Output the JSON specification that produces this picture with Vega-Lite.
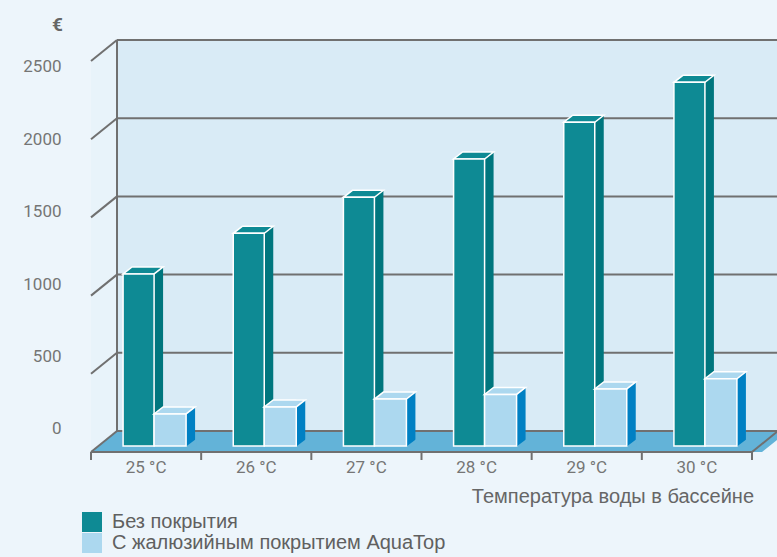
{
  "$schema": "https://vega.github.io/schema/vega-lite/v6.json",
  "width": 671,
  "height": 391,
  "autosize": {"type": "none"},
  "padding": {"left": 86, "top": 61, "right": 20, "bottom": 105},
  "background": "#edf5fb",
  "config": {"view": {"stroke": null}, "font": "Roboto"},
  "datasets": {
    "costs": [
      {"t": 25, "temp": "25 °C", "series": "Без покрытия", "euro": 1100},
      {"t": 26, "temp": "26 °C", "series": "Без покрытия", "euro": 1360},
      {"t": 27, "temp": "27 °C", "series": "Без покрытия", "euro": 1590},
      {"t": 28, "temp": "28 °C", "series": "Без покрытия", "euro": 1835},
      {"t": 29, "temp": "29 °C", "series": "Без покрытия", "euro": 2070},
      {"t": 30, "temp": "30 °C", "series": "Без покрытия", "euro": 2325},
      {"t": 25, "temp": "25 °C", "series": "С жалюзийным покрытием AquaTop", "euro": 205},
      {"t": 26, "temp": "26 °C", "series": "С жалюзийным покрытием AquaTop", "euro": 250},
      {"t": 27, "temp": "27 °C", "series": "С жалюзийным покрытием AquaTop", "euro": 300},
      {"t": 28, "temp": "28 °C", "series": "С жалюзийным покрытием AquaTop", "euro": 330},
      {"t": 29, "temp": "29 °C", "series": "С жалюзийным покрытием AquaTop", "euro": 365},
      {"t": 30, "temp": "30 °C", "series": "С жалюзийным покрытием AquaTop", "euro": 430}
    ],
    "ticks": [{"v": 0}, {"v": 500}, {"v": 1000}, {"v": 1500}, {"v": 2000}, {"v": 2500}],
    "bounds": [{"b": 24.5}, {"b": 25.5}, {"b": 26.5}, {"b": 27.5}, {"b": 28.5}, {"b": 29.5}, {"b": 30.5}]
  },
  "layer": [
    {
      "layer": [
        {
          "data": {"values": [{}]},
          "mark": {"type": "rect", "fill": "#d9ebf6", "xOffset": 26, "x2Offset": 26, "yOffset": -21, "y2Offset": -21},
          "encoding": {
            "x": {"datum": 24.5, "type": "quantitative", "scale": {"domain": [24.5, 30.5], "nice": false, "zero": false}, "axis": null},
            "x2": {"datum": 30.5},
            "y": {
              "datum": 0, "type": "quantitative",
              "scale": {"domain": [0, 2500], "nice": false},
              "axis": {
                "values": [0, 500, 1000, 1500, 2000, 2500],
                "labels": false, "ticks": true, "tickSize": 7, "tickWidth": 2, "tickColor": "#707070",
                "domainColor": "#707070", "domainWidth": 2, "grid": false, "title": null, "zindex": 1
              }
            },
            "y2": {"datum": 2500}
          }
        },
        {
          "data": {"values": [{}]},
          "mark": {"type": "point", "shape": "M 0 0 L 0 -391 L 26 -412 L 26 -21 Z", "size": 4, "filled": true, "fill": "#e8f3fa", "opacity": 1, "strokeWidth": 0},
          "encoding": {
            "x": {"datum": 24.5, "type": "quantitative", "axis": null},
            "y": {"datum": 0, "type": "quantitative", "axis": null}
          }
        },
        {
          "data": {"values": [{}]},
          "mark": {"type": "point", "shape": "M 0 0 L 671 0 L 697 -21 L 26 -21 Z", "size": 4, "filled": true, "fill": "#63b3d8", "opacity": 1, "strokeWidth": 0},
          "encoding": {
            "x": {"datum": 24.5, "type": "quantitative", "axis": null},
            "y": {"datum": 0, "type": "quantitative", "axis": null}
          }
        },
        {
          "data": {"name": "ticks"},
          "mark": {"type": "rule", "color": "#707070", "strokeWidth": 2, "xOffset": 26, "x2Offset": 26, "yOffset": -21},
          "encoding": {
            "x": {"datum": 24.5, "type": "quantitative", "axis": null},
            "x2": {"datum": 30.5},
            "y": {"field": "v", "type": "quantitative", "axis": null}
          }
        },
        {
          "data": {"values": [{}]},
          "mark": {"type": "rule", "color": "#707070", "strokeWidth": 2, "xOffset": 26, "yOffset": -21, "y2Offset": -21},
          "encoding": {
            "x": {"datum": 24.5, "type": "quantitative", "axis": null},
            "y": {"datum": 0, "type": "quantitative", "axis": null},
            "y2": {"datum": 2500}
          }
        },
        {
          "data": {"name": "ticks"},
          "mark": {"type": "rule", "color": "#707070", "strokeWidth": 2, "x2Offset": 26, "y2Offset": -21},
          "encoding": {
            "x": {"datum": 24.5, "type": "quantitative", "axis": null},
            "x2": {"datum": 24.5},
            "y": {"field": "v", "type": "quantitative", "axis": null},
            "y2": {"field": "v"}
          }
        },
        {
          "data": {"values": [{}]},
          "mark": {"type": "rule", "color": "#707070", "strokeWidth": 2, "x2Offset": 26, "y2Offset": -21},
          "encoding": {
            "x": {"datum": 30.5, "type": "quantitative", "axis": null},
            "x2": {"datum": 30.5},
            "y": {"datum": 0, "type": "quantitative", "axis": null},
            "y2": {"datum": 0}
          }
        },
        {
          "data": {"values": [{}]},
          "mark": {"type": "rule", "color": "#707070", "strokeWidth": 2},
          "encoding": {
            "x": {"datum": 24.5, "type": "quantitative", "axis": null},
            "x2": {"datum": 30.5},
            "y": {"datum": 0, "type": "quantitative", "axis": null}
          }
        },
        {
          "data": {"name": "bounds"},
          "mark": {"type": "rule", "color": "#707070", "strokeWidth": 2, "y2Offset": 8},
          "encoding": {
            "x": {"field": "b", "type": "quantitative", "axis": null},
            "y": {"datum": 0, "type": "quantitative", "axis": null},
            "y2": {"datum": 0}
          }
        },
        {
          "data": {"name": "costs"},
          "transform": [{"filter": "datum.series === 'Без покрытия'"}],
          "mark": {"type": "text", "font": "Roboto", "fontSize": 17, "color": "#757575", "baseline": "middle", "align": "center", "yOffset": 16},
          "encoding": {
            "x": {"field": "t", "type": "quantitative", "axis": null},
            "y": {"datum": 0, "type": "quantitative", "axis": null},
            "text": {"field": "temp"}
          }
        },
        {
          "data": {"values": [{}]},
          "mark": {"type": "text", "font": "Liberation Sans", "fontSize": 20, "color": "#666666", "baseline": "middle", "align": "right", "xOffset": 2, "yOffset": 45},
          "encoding": {
            "x": {"datum": 30.5, "type": "quantitative", "axis": null},
            "y": {"datum": 0, "type": "quantitative", "axis": null},
            "text": {"value": "Температура воды в бассейне"}
          }
        },
        {
          "data": {"name": "costs"},
          "transform": [{"filter": "datum.series === 'Без покрытия'"}],
          "mark": {"type": "bar", "width": 9, "xOffset": 12.5, "yOffset": -13, "y2Offset": -6, "fill": "#00767e"},
          "encoding": {
            "x": {"field": "t", "type": "quantitative", "axis": null},
            "y": {"field": "euro", "type": "quantitative", "axis": null},
            "y2": {"datum": 0}
          }
        },
        {
          "data": {"name": "costs"},
          "transform": [{"filter": "datum.series === 'Без покрытия'"}],
          "mark": {"type": "point", "shape": "M -15.5 0 L 15.5 0 L 24.5 -7 L -6.5 -7 Z", "size": 4, "filled": true, "fill": "#0e8a94", "stroke": "white", "strokeWidth": 1.5, "opacity": 1, "xOffset": -7.5, "yOffset": -6},
          "encoding": {
            "x": {"field": "t", "type": "quantitative", "axis": null},
            "y": {"field": "euro", "type": "quantitative", "axis": null}
          }
        },
        {
          "data": {"name": "costs"},
          "transform": [{"filter": "datum.series === 'Без покрытия'"}],
          "mark": {"type": "bar", "width": 31, "xOffset": -7.5, "yOffset": -6, "y2Offset": -6, "stroke": "white", "strokeWidth": 1.5, "opacity": 1},
          "encoding": {
            "x": {"field": "t", "type": "quantitative", "axis": null},
            "y": {"field": "euro", "type": "quantitative", "axis": null},
            "y2": {"datum": 0},
            "color": {
              "field": "series", "type": "nominal",
              "scale": {"domain": ["Без покрытия", "С жалюзийным покрытием AquaTop"], "range": ["#0e8a94", "#acd8ef"]},
              "legend": {
                "orient": "none", "legendX": -4, "legendY": 451, "title": null,
                "symbolType": "square", "symbolSize": 400, "symbolStrokeWidth": 0, "symbolOpacity": 1,
                "labelFont": "Liberation Sans", "labelFontSize": 20, "labelColor": "#606060", "labelLimit": 0,
                "labelOffset": 10, "rowPadding": 1, "padding": 0
              }
            }
          }
        },
        {
          "data": {"name": "costs"},
          "transform": [{"filter": "datum.series !== 'Без покрытия'"}],
          "mark": {"type": "bar", "width": 9, "xOffset": 44.5, "yOffset": -13, "y2Offset": -6, "fill": "#0080c3"},
          "encoding": {
            "x": {"field": "t", "type": "quantitative", "axis": null},
            "y": {"field": "euro", "type": "quantitative", "axis": null},
            "y2": {"datum": 0}
          }
        },
        {
          "data": {"name": "costs"},
          "transform": [{"filter": "datum.series !== 'Без покрытия'"}],
          "mark": {"type": "point", "shape": "M 0 0.5 L 10 0.5 L 10 -7 Z", "size": 4, "filled": true, "fill": "#63b3d8", "opacity": 1, "strokeWidth": 0, "xOffset": 40, "yOffset": -6},
          "encoding": {
            "x": {"field": "t", "type": "quantitative", "axis": null},
            "y": {"datum": 0, "type": "quantitative", "axis": null}
          }
        },
        {
          "data": {"name": "costs"},
          "transform": [{"filter": "datum.series !== 'Без покрытия'"}],
          "mark": {"type": "point", "shape": "M -16 0 L 16 0 L 25 -7 L -7 -7 Z", "size": 4, "filled": true, "fill": "#acd8ef", "stroke": "white", "strokeWidth": 1.5, "opacity": 1, "xOffset": 24, "yOffset": -6},
          "encoding": {
            "x": {"field": "t", "type": "quantitative", "axis": null},
            "y": {"field": "euro", "type": "quantitative", "axis": null}
          }
        },
        {
          "data": {"name": "costs"},
          "transform": [{"filter": "datum.series !== 'Без покрытия'"}],
          "mark": {"type": "bar", "width": 32, "xOffset": 24, "yOffset": -6, "y2Offset": -6, "stroke": "white", "strokeWidth": 1.5, "opacity": 1},
          "encoding": {
            "x": {"field": "t", "type": "quantitative", "axis": null},
            "y": {"field": "euro", "type": "quantitative", "axis": null},
            "y2": {"datum": 0},
            "color": {
              "field": "series", "type": "nominal",
              "scale": {"domain": ["Без покрытия", "С жалюзийным покрытием AquaTop"], "range": ["#0e8a94", "#acd8ef"]},
              "legend": {
                "orient": "none", "legendX": -4, "legendY": 451, "title": null,
                "symbolType": "square", "symbolSize": 400, "symbolStrokeWidth": 0, "symbolOpacity": 1,
                "labelFont": "Liberation Sans", "labelFontSize": 20, "labelColor": "#606060", "labelLimit": 0,
                "labelOffset": 10, "rowPadding": 1, "padding": 0
              }
            }
          }
        }
      ]
    },
    {
      "data": {"values": [{}]},
      "mark": {"type": "point", "opacity": 0},
      "encoding": {
        "x": {"datum": 27.5, "type": "quantitative", "axis": null},
        "y": {
          "datum": 0, "type": "quantitative",
          "scale": {"domain": [-159, 2541], "nice": false, "zero": false},
          "axis": {
            "orient": "left",
            "values": [0, 500, 1000, 1500, 2000, 2500],
            "format": "d",
            "ticks": false, "tickSize": 0, "domain": false, "grid": false,
            "labelPadding": 25, "labelFont": "Roboto", "labelFontSize": 17, "labelColor": "#757575",
            "title": "€", "titleAngle": 0, "titleX": -29, "titleY": -37,
            "titleAlign": "center", "titleBaseline": "middle",
            "titleFont": "Roboto", "titleFontSize": 19, "titleFontWeight": "bold", "titleColor": "#666666"
          }
        }
      }
    }
  ],
  "resolve": {"scale": {"y": "independent"}, "axis": {"y": "independent"}}
}
